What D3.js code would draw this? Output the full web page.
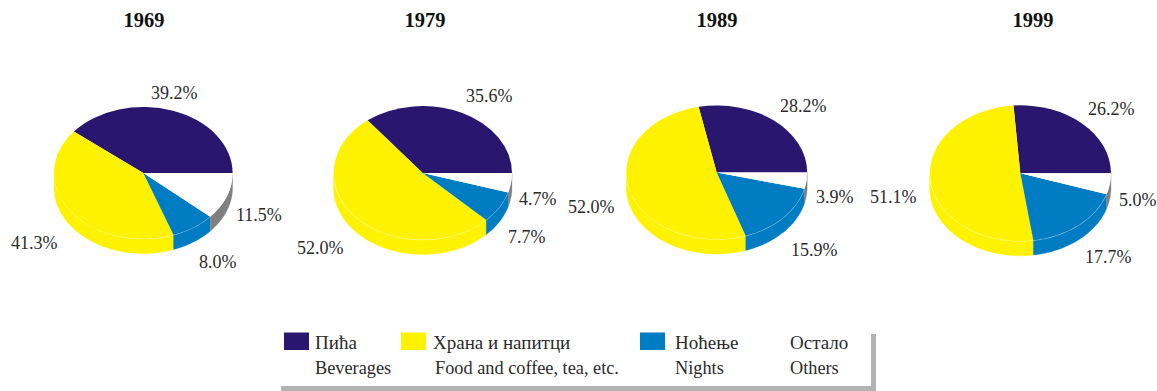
<!DOCTYPE html>
<html><head><meta charset="utf-8">
<script src="https://cdn.jsdelivr.net/npm/d3@7"></script>
<style>
html,body{margin:0;padding:0;background:#fff}
svg{display:block}
text{font-family:"Liberation Serif",serif;fill:#2b2b2b}
</style></head><body>
<svg id="c" width="1157" height="391"></svg>
<script>
const years = ["1969","1979","1989","1999"];
const categories = ["Beverages","Food and coffee, tea, etc.","Nights","Others"];
const categoriesLocal = ["Пића","Храна и напитци","Ноћење","Остало"];
const shares1969 = [39.2,41.3,8.0,11.5];
const shares1979 = [35.6,52.0,7.7,4.7];
const shares1989 = [28.2,52.0,15.9,3.9];
const shares1999 = [26.2,51.1,17.7,5.0];
const allShares = [shares1969,shares1979,shares1989,shares1999];

// layout, kept apart from the data
const topColors = ["#29166f","#fff200","#007cc3","#ffffff"];
const wallColors = ["#29166f","#fff200","#007cc3","#808080"];
const pies = [
  {cx:143.3,cy:173,rx:89.3,ry:66,tx:144},
  {cx:422.7,cy:173,rx:89.3,ry:67,tx:425},
  {cx:716.7,cy:172.5,rx:90.5,ry:67,tx:717},
  {cx:1020.3,cy:173.3,rx:90.7,ry:68,tx:1033}
];
const depth = 14.5;
const labelPos = [
  [[151,99],[11,249],[199,268],[236,221]],
  [[466,102],[297,254],[508,243],[519,205]],
  [[780,112],[568,213],[791,256],[816,203]],
  [[1088,115],[870,203],[1085,263],[1119,206]]
];
const legendSwatchX = [284,401,640];
const legendLocalX = [315,433,675,790];
const legendEnX = [315,435,675,790];

const svg = d3.select("#c");
const pieGen = d3.pie().sort(null).startAngle(Math.PI/2).endAngle(-1.5*Math.PI);

allShares.forEach((vals,i)=>{
  const p = pies[i];
  const g = svg.append("g");
  const x = d3.scaleLinear().domain([-1,1]).range([p.cx-p.rx,p.cx+p.rx]);
  const y = d3.scaleLinear().domain([-1,1]).range([p.cy-p.ry,p.cy+p.ry]);
  const arcs = pieGen(vals);
  const pt = (a,dz)=>[x(Math.sin(a)),y(-Math.cos(a))+dz];
  const frontLo=-1.5*Math.PI, frontHi=-0.5*Math.PI;

  const samples = (lo,hi)=>d3.range(0,41).map(k=>lo+(hi-lo)*k/40);
  const line = d3.line();
  arcs.forEach((d,j)=>{
    const hi=Math.min(d.startAngle,frontHi), lo=Math.max(d.endAngle,frontLo);
    if(hi<=lo) return;
    const topEdge=samples(lo,hi).map(a=>pt(a,0));
    const botEdge=samples(lo,hi).reverse().map(a=>pt(a,depth));
    g.append("path").attr("d",line(topEdge.concat(botEdge))+"Z")
      .attr("fill",wallColors[j]).attr("stroke",wallColors[j]).attr("stroke-width",0.3);
  });
  const unit = d3.arc().innerRadius(0).outerRadius(1);
  g.append("g").attr("transform",`translate(${p.cx},${p.cy}) scale(${p.rx},${p.ry})`)
    .selectAll("path").data(arcs).join("path")
    .attr("d",unit)
    .attr("fill",(d,j)=>topColors[j]);
  // faint seam between top face and wall
  arcs.forEach((d,j)=>{
    if(j===3) return;
    const hi=Math.min(d.startAngle,frontHi), lo=Math.max(d.endAngle,frontLo);
    if(hi<=lo) return;
    g.append("path").attr("d",line(samples(lo,hi).map(a=>pt(a,0))))
      .attr("fill","none").attr("stroke","#fff").attr("stroke-opacity",0.4).attr("stroke-width",0.5);
  });
  svg.append("text").attr("x",p.tx).attr("y",27).attr("text-anchor","middle")
    .attr("font-size",20.5).attr("font-weight","bold").style("fill","#111").text(years[i]);
  vals.forEach((v,j)=>{
    svg.append("text").attr("x",labelPos[i][j][0]).attr("y",labelPos[i][j][1])
      .attr("font-size",18).text(v.toFixed(1)+"%");
  });
});

// legend
const lg = svg.append("g");
lg.append("rect").attr("x",281).attr("y",386).attr("width",595).attr("height",5).attr("fill","#b3b3b3");
lg.append("rect").attr("x",871).attr("y",334).attr("width",5).attr("height",57).attr("fill","#b3b3b3");
legendSwatchX.forEach((xx,j)=>{
  lg.append("rect").attr("x",xx).attr("y",332.5).attr("width",25).attr("height",17.5).attr("fill",topColors[j]);
});
categoriesLocal.forEach((t,j)=>{
  lg.append("text").attr("x",legendLocalX[j]).attr("y",349).attr("font-size",19).text(t);
});
categories.forEach((t,j)=>{
  lg.append("text").attr("x",legendEnX[j]).attr("y",374).attr("font-size",18.3).text(t);
});
</script>
</body></html>
